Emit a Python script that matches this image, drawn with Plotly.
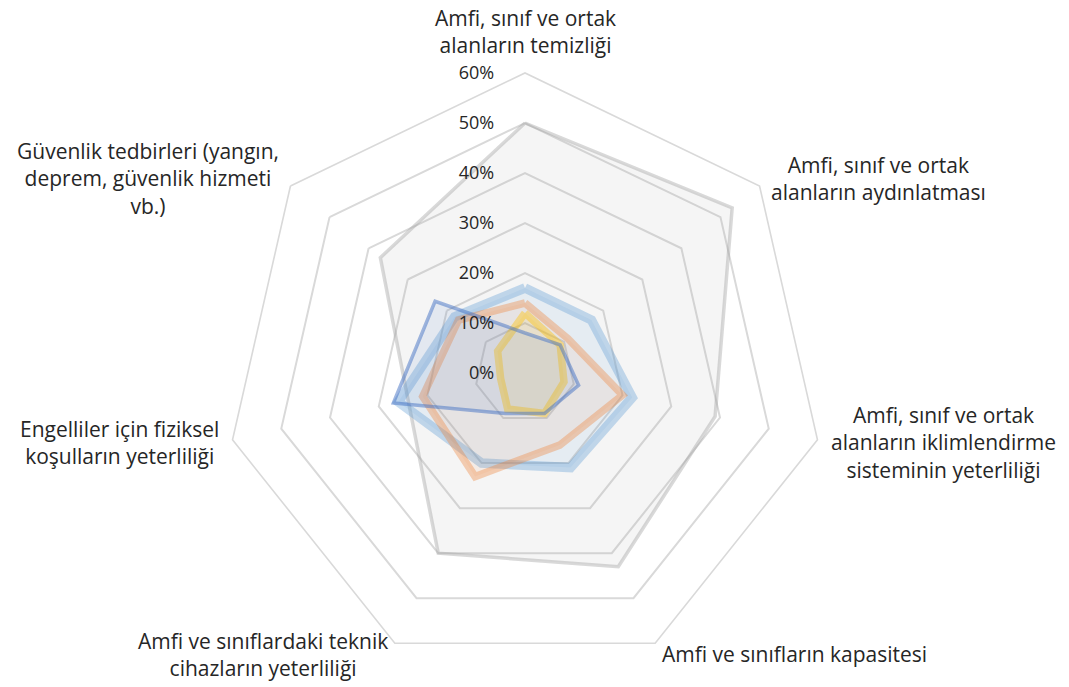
import math
import plotly.graph_objects as go

categories = [
    "Amfi, sınıf ve ortak<br>alanların temizliği",
    "Amfi, sınıf ve ortak<br>alanların aydınlatması",
    "Amfi, sınıf ve ortak<br>alanların iklimlendirme<br>sisteminin yeterliliği",
    "Amfi ve sınıfların kapasitesi",
    "Amfi ve sınıflardaki teknik<br>cihazların yeterliliği",
    "Engelliler için fiziksel<br>koşulların yeterliliği",
    "Güvenlik tedbirleri (yangın,<br>deprem, güvenlik hizmeti<br>vb.)",
]
cat_keys = ["c%d" % i for i in range(len(categories))]

series_gray = [50, 53, 39, 43, 40, 24, 37]
series_lightblue = [17, 17, 22, 21, 20, 26, 18]
series_orange = [14, 11, 20, 16, 23, 21, 17]
series_yellow = [12, 9, 8, 9, 8, 5, 7]
series_darkblue = [8, 9, 11, 9, 9, 27, 23]

radial_ticks = [0, 10, 20, 30, 40, 50, 60]
radial_ticktext = ["0%", "10%", "20%", "30%", "40%", "50%", "60%"]

W, H = 1069, 687
CX, CY, R = 525, 373, 300

styles = [
    ("Seri 3", series_gray, "rgba(165,165,165,0.42)", 3.5, "rgba(165,165,165,0.11)"),
    ("Seri 5", series_lightblue, "rgba(91,155,213,0.35)", 9.5, "rgba(91,155,213,0.10)"),
    ("Seri 2", series_orange, "rgba(237,125,49,0.35)", 7.5, "rgba(237,125,49,0.08)"),
    ("Seri 4", series_yellow, "rgba(255,192,0,0.40)", 7.5, "rgba(255,192,0,0.10)"),
    ("Seri 1", series_darkblue, "rgba(68,114,196,0.50)", 3.5, "rgba(68,114,196,0.10)"),
]

fig = go.Figure()
for name, vals, lc, lw, fc in styles:
    fig.add_trace(go.Scatterpolar(
        r=vals + vals[:1],
        theta=cat_keys + cat_keys[:1],
        mode="lines",
        fill="toself",
        fillcolor=fc,
        line=dict(color=lc, width=lw),
        name=name,
        showlegend=False,
    ))

grid_color = "#D9D9D9"
font_family = "'Open Sans', Lato, sans-serif"
text_color = "#262626"

fig.update_layout(
    width=W, height=H,
    margin=dict(l=0, r=0, t=0, b=0),
    paper_bgcolor="white",
    plot_bgcolor="white",
    showlegend=False,
    font=dict(family=font_family, size=18, color=text_color),
    polar=dict(
        domain=dict(x=[(CX - R) / W, (CX + R) / W], y=[1 - (CY + R) / H, 1 - (CY - R) / H]),
        bgcolor="white",
        gridshape="linear",
        angularaxis=dict(
            type="category",
            categoryarray=cat_keys,
            rotation=90,
            direction="clockwise",
            showgrid=False,
            showline=True,
            linecolor=grid_color,
            linewidth=1.6,
            showticklabels=False,
            ticks="",
        ),
        radialaxis=dict(
            range=[0, 60],
            tickvals=radial_ticks,
            ticktext=radial_ticktext,
            angle=90,
            side="counterclockwise",
            showline=False,
            ticks="outside",
            ticklen=24,
            tickcolor="rgba(0,0,0,0)",
            gridcolor=grid_color,
            gridwidth=1.6,
            tickfont=dict(family=font_family, size=18, color=text_color),
            tickangle=90,
        ),
    ),
)

# category labels placed around the outer ring
pad = 12
n = len(categories)
for i, label in enumerate(categories):
    th = 2 * math.pi * i / n
    s, c = math.sin(th), math.cos(th)
    px = CX + (R + pad) * s
    py = CY - (R + pad) * c
    if s > 0.1:
        xa = "left"
    elif s < -0.1:
        xa = "right"
    else:
        xa = "center"
    ya = "bottom" if c > 0.7 else "middle"
    fig.add_annotation(
        x=px / W, y=1 - py / H, xref="paper", yref="paper",
        text=label, showarrow=False, xanchor=xa, yanchor=ya, align="center",
        font=dict(family=font_family, size=21, color=text_color),
    )

fig.write_html(
    "out.html",
    config={"displayModeBar": False},
    post_script="document.body.style.margin='0';document.body.style.overflow='hidden';",
)
